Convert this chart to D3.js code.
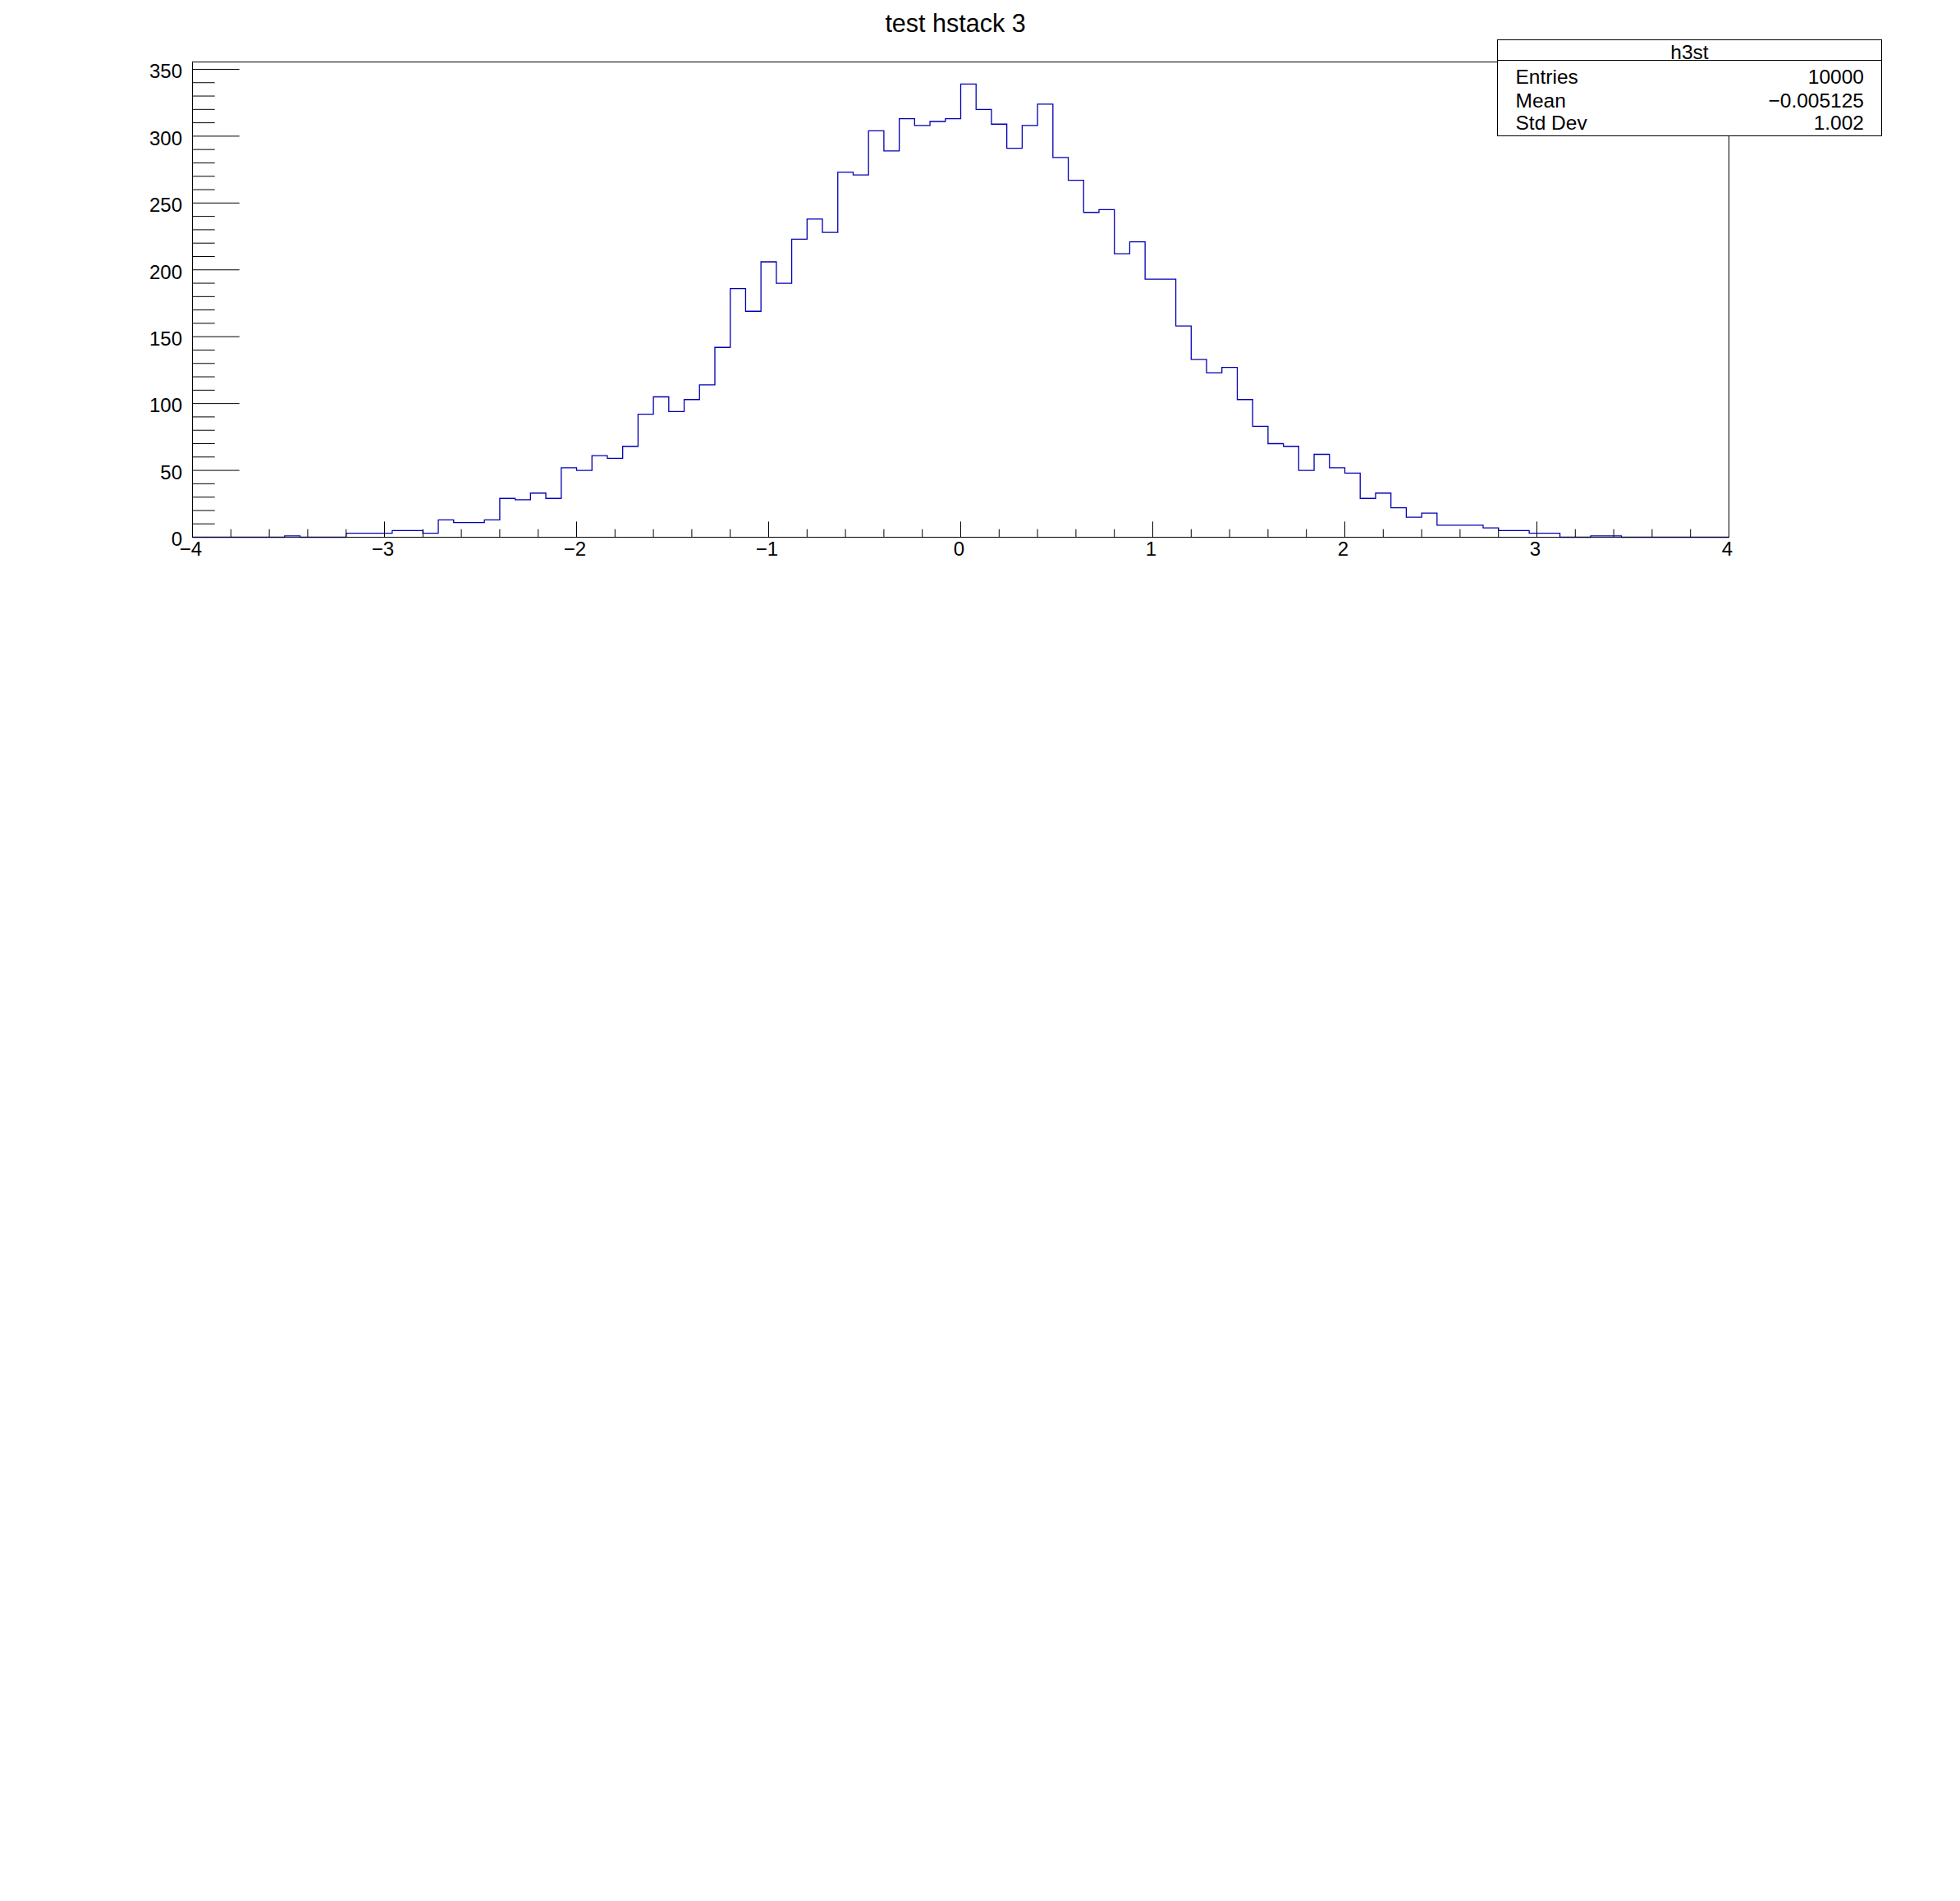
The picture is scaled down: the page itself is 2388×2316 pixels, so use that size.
<!DOCTYPE html>
<html><head><meta charset="utf-8">
<script src="https://cdn.jsdelivr.net/npm/d3@7"></script>
<style>
body{margin:0;background:#fff}
svg text{font-family:"Liberation Sans",Arial,Helvetica,sans-serif;fill:#000}
</style>
</head><body>
<svg id="c" width="2388" height="2316"></svg>
<script>
// ---- data ----
const chartTitle = "test hstack 3";
const xDomain = [-4, 4];
const yDomainMax = 355.5;
const counts = [
  0,0,0,0,0,0,1,0,0,0,
  3,3,3,5,5,3,13,11,11,13,
  29,28,33,29,52,50,61,59,68,92,
  105,94,103,114,142,186,169,206,190,223,
  238,228,273,271,304,289,313,308,311,313,
  339,320,309,291,308,324,284,267,243,245,
  212,221,193,193,158,133,123,127,103,83,
  70,68,50,62,52,48,29,33,22,15,
  18,9,9,9,7,5,5,3,3,0,
  0,1,1,0,0,0,0,0,0,0
];
const xMajorTicks = [-4,-3,-2,-1,0,1,2,3,4];
const yMajorTicks = [0,50,100,150,200,250,300,350];
const statsTitle = "h3st";
const statsLabels = ["Entries","Mean","Std Dev"];
const statsValues = ["10000","\u22120.005125","1.002"];

// ---- layout ----
const svg = d3.select("#c");
svg.append("rect").attr("width",2388).attr("height",2316).attr("fill","#fff");

const x = d3.scaleLinear().domain(xDomain).range([234, 2106]);
const y = d3.scaleLinear().domain([0, yDomainMax]).range([654, 75]);

const nBins = counts.length;
const bw = (xDomain[1]-xDomain[0])/nBins;
const pts = [[xDomain[0],0]];
counts.forEach((c,i)=>{
  const lo = xDomain[0]+i*bw, hi = lo+bw;
  pts.push([lo,c]); pts.push([hi,c]);
});
pts.push([xDomain[1],0]);

// histogram
svg.append("path")
  .datum(pts)
  .attr("transform","translate(0.5,0.5)")
  .attr("fill","none")
  .attr("stroke","#0000b4")
  .attr("stroke-width",1.3)
  .attr("d", d3.line().x(d=>x(d[0])).y(d=>y(d[1])));

// frame
svg.append("rect")
  .attr("x",x(xDomain[0])+0.5).attr("y",y(yDomainMax)+0.5)
  .attr("width",x(xDomain[1])-x(xDomain[0]))
  .attr("height",y(0)-y(yDomainMax))
  .attr("fill","none").attr("stroke","#000").attr("stroke-width",1);

function styleAxis(g){
  g.select(".domain").remove();
  g.selectAll(".tick line").attr("stroke","#000").attr("stroke-width",1);
  g.attr("font-family",null).attr("font-size",null);
  g.selectAll("text").style("font-size","24px").attr("fill","#000");
}

// y minor ticks
const yMinor = d3.range(0, 351, 10).filter(v=>v%50!==0);
svg.append("g").attr("transform",`translate(${x(xDomain[0])},0)`)
  .call(d3.axisLeft(y).tickValues(yMinor).tickSize(-27.7).tickFormat(""))
  .call(styleAxis);
// y major ticks
svg.append("g").attr("transform",`translate(${x(xDomain[0])},0)`)
  .call(d3.axisLeft(y).tickValues(yMajorTicks).tickSize(-57.7).tickPadding(12).tickFormat(d3.format("d")))
  .call(styleAxis)
  .call(g=>g.selectAll("text").attr("dy","0.45em"));

// x minor ticks
const xMinor = d3.range(-40, 41, 2).map(v=>v/10).filter(v=>Math.abs(v-Math.round(v))>1e-6);
svg.append("g").attr("transform",`translate(0,${y(0)})`)
  .call(d3.axisBottom(x).tickValues(xMinor).tickSize(-9.3).tickFormat(""))
  .call(styleAxis);
// x major ticks
svg.append("g").attr("transform",`translate(0,${y(0)})`)
  .call(d3.axisBottom(x).tickValues(xMajorTicks).tickSize(-18.6).tickPadding(6).tickFormat(d3.format("d")))
  .call(styleAxis)
  .call(g=>g.selectAll("text").attr("x",-2));

// title
svg.append("text")
  .attr("x",1164).attr("y",39)
  .attr("text-anchor","middle")
  .style("font-size","30.5px")
  .text(chartTitle);

// stats box
const bx0=1824.5, bx1=2292.5, by0=48.5, by1=165.5, sep=73.5;
const sb = svg.append("g");
sb.append("rect").attr("x",bx0).attr("y",by0).attr("width",bx1-bx0).attr("height",by1-by0)
  .attr("fill","#fff").attr("stroke","#000").attr("stroke-width",1);
sb.append("line").attr("x1",bx0).attr("x2",bx1).attr("y1",sep).attr("y2",sep)
  .attr("stroke","#000").attr("stroke-width",1);
sb.append("text")
  .attr("x",(bx0+bx1)/2).attr("y",71.5)
  .attr("text-anchor","middle").style("font-size","24.5px").text(statsTitle);
const rowY = [101.5, 130.5, 157.5];
statsLabels.forEach((lab,i)=>{
  sb.append("text")
    .attr("x",1846.5).attr("y",rowY[i])
    .style("font-size","24.5px").text(lab);
  sb.append("text")
    .attr("x",2271).attr("y",rowY[i])
    .attr("text-anchor","end")
    .style("font-size","24.5px").text(statsValues[i]);
});
</script>
</body></html>
